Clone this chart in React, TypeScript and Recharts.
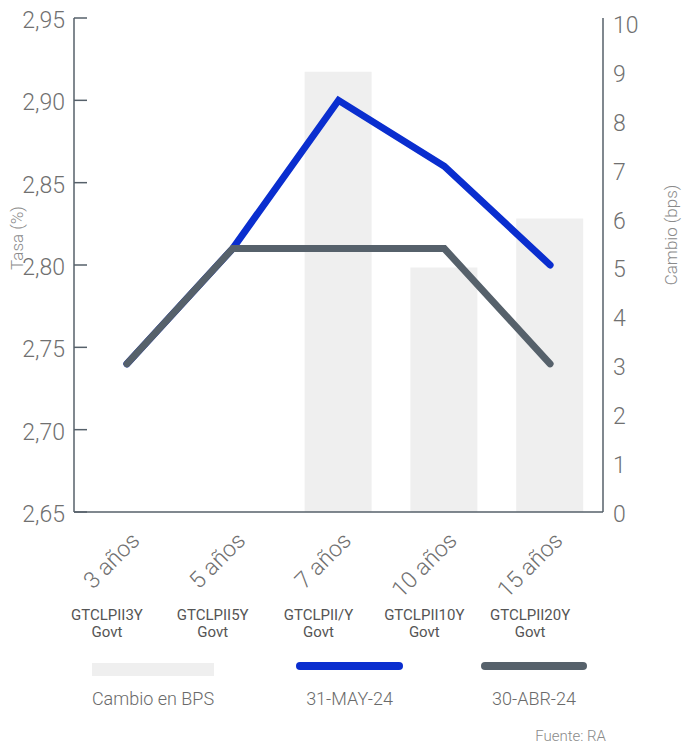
import React from 'react';
import {
    ComposedChart,
    Bar,
    Line,
    XAxis,
    YAxis,
    Label,
} from 'recharts';

// plazos (categorías del eje X)
const plazos = ['3 años', '5 años', '7 años', '10 años', '15 años'];
const tickers = ['GTCLPII3Y', 'GTCLPII5Y', 'GTCLPII/Y', 'GTCLPII10Y', 'GTCLPII20Y'];

// tasas (%) por fecha
const tasaMay24 = [2.74, 2.81, 2.9, 2.86, 2.8];
const tasaAbr24 = [2.74, 2.81, 2.81, 2.81, 2.74];

// cambio en bps
const cambioBps = [0, 0, 9, 5, 6];

const tasaTicks = [2.65, 2.7, 2.75, 2.8, 2.85, 2.9, 2.95];
const bpsTicks = [0, 1, 2, 3, 4, 5, 6, 7, 8, 9, 10];

const FONT = 'Roboto, "Noto Sans", sans-serif';
const AXIS = '#56606a';
const BLUE = '#0a2ecf';
const GRAY = '#56616b';
const BAR = '#efefef';

const data = plazos.map((p, i) => ({
    plazo: p,
    ticker: tickers[i],
    may: tasaMay24[i],
    abr: tasaAbr24[i],
    bps: cambioBps[i],
}));

const LeftTick = (props: any) => {
    const { x, y, payload } = props;
    return (
        <g>
            <line x1={x} x2={x + 13} y1={y} y2={y} stroke={AXIS} strokeWidth={1.5} />
            <text x={x - 9} y={y + 10} textAnchor="end" fontSize={23} fontWeight={300} fill="#707070" fontFamily={FONT}>
                {payload.value.toFixed(2).replace('.', ',')}
            </text>
        </g>
    );
};

const RightTick = (props: any) => {
    const { x, y, payload } = props;
    return (
        <text x={x + 10} y={y + 10} textAnchor="start" fontSize={23} fontWeight={300} fill="#707070" fontFamily={FONT}>
            {payload.value}
        </text>
    );
};

const BottomTick = (props: any) => {
    const { x, y, payload, index } = props;
    return (
        <g>
            <text
                transform={`translate(${x + 14},${y + 30}) rotate(-45)`}
                textAnchor="end"
                fontSize={23}
                fontWeight={300}
                fill="#707070"
                fontFamily={FONT}
            >
                {payload.value}
            </text>
            <text x={x - 20} y={y + 108} textAnchor="middle" fontSize={15} fontWeight={400} fill="#555" fontFamily={FONT}>
                {tickers[index]}
            </text>
            <text x={x - 20} y={y + 125} textAnchor="middle" fontSize={15} fontWeight={400} fill="#555" fontFamily={FONT}>
                Govt
            </text>
        </g>
    );
};

const legendItems = [
    { label: 'Cambio en BPS', color: BAR, kind: 'bar', x: 92, w: 122 },
    { label: '31-MAY-24', color: BLUE, kind: 'line', x: 300, w: 99 },
    { label: '30-ABR-24', color: GRAY, kind: 'line', x: 485, w: 98 },
];

export default function App() {
    return (
        <div style={{ position: 'relative', width: 692, height: 744, background: '#fff', fontFamily: FONT }}>
            <style>{`body{margin:0}`}</style>
            <ComposedChart
                width={692}
                height={744}
                data={data}
                margin={{ top: 18, right: 0, bottom: 92, left: 0 }}
                barCategoryGap="18%"
            >
                <XAxis
                    dataKey="plazo"
                    height={140}
                    stroke={AXIS}
                    strokeWidth={1.5}
                    tickLine={false}
                    tickSize={0}
                    tickMargin={0}
                    interval={0}
                    tick={<BottomTick />}
                />
                <YAxis
                    yAxisId="tasa"
                    width={74}
                    domain={[2.65, 2.95]}
                    ticks={tasaTicks}
                    allowDataOverflow
                    stroke={AXIS}
                    strokeWidth={1.5}
                    tickLine={false}
                    tickSize={0}
                    tickMargin={0}
                    interval={0}
                    tick={<LeftTick />}
                >
                    <Label
                        content={({ viewBox }: any) => (
                            <text
                                transform={`translate(${viewBox.x + 23},238) rotate(-90)`}
                                textAnchor="middle"
                                fontSize={17}
                                fontWeight={300}
                                fill="#8a8a8a"
                                fontFamily={FONT}
                            >
                                Tasa (%)
                            </text>
                        )}
                    />
                </YAxis>
                <YAxis
                    yAxisId="bps"
                    orientation="right"
                    width={89}
                    domain={[0, 10.1]}
                    ticks={bpsTicks}
                    allowDataOverflow
                    stroke={AXIS}
                    strokeWidth={1.5}
                    tickLine={false}
                    tickSize={0}
                    tickMargin={0}
                    interval={0}
                    tick={<RightTick />}
                >
                    <Label
                        content={({ viewBox }: any) => (
                            <text
                                transform={`translate(${viewBox.x + 74},235) rotate(-90)`}
                                textAnchor="middle"
                                fontSize={17}
                                fontWeight={300}
                                fill="#8a8a8a"
                                fontFamily={FONT}
                            >
                                Cambio (bps)
                            </text>
                        )}
                    />
                </YAxis>
                <Bar yAxisId="bps" dataKey="bps" fill={BAR} barSize={67} isAnimationActive={false} />
                <Line
                    yAxisId="tasa"
                    type="linear"
                    dataKey="may"
                    stroke={BLUE}
                    strokeWidth={7}
                    strokeLinecap="round"
                    dot={false}
                    activeDot={false}
                    isAnimationActive={false}
                />
                <Line
                    yAxisId="tasa"
                    type="linear"
                    dataKey="abr"
                    stroke={GRAY}
                    strokeWidth={7}
                    strokeLinecap="round"
                    dot={false}
                    activeDot={false}
                    isAnimationActive={false}
                />
            </ComposedChart>
            <svg width={692} height={744} style={{ position: 'absolute', left: 0, top: 0, pointerEvents: 'none' }}>
                {legendItems.map((it) => (
                    <g key={it.label}>
                        {it.kind === 'bar' ? (
                            <rect x={it.x} y={663} width={it.w} height={13} fill={it.color} />
                        ) : (
                            <line x1={it.x} x2={it.x + it.w} y1={666} y2={666} stroke={it.color} strokeWidth={8} strokeLinecap="round" />
                        )}
                        <text x={it.x + it.w / 2} y={705} textAnchor="middle" fontSize={18} fontWeight={300} fill="#6a6a6a" fontFamily={FONT}>
                            {it.label}
                        </text>
                    </g>
                ))}
                <text x={606} y={741} textAnchor="end" fontSize={15} fontWeight={300} fill="#8a8a8a" fontFamily={FONT}>
                    Fuente: RA
                </text>
            </svg>
        </div>
    );
}
